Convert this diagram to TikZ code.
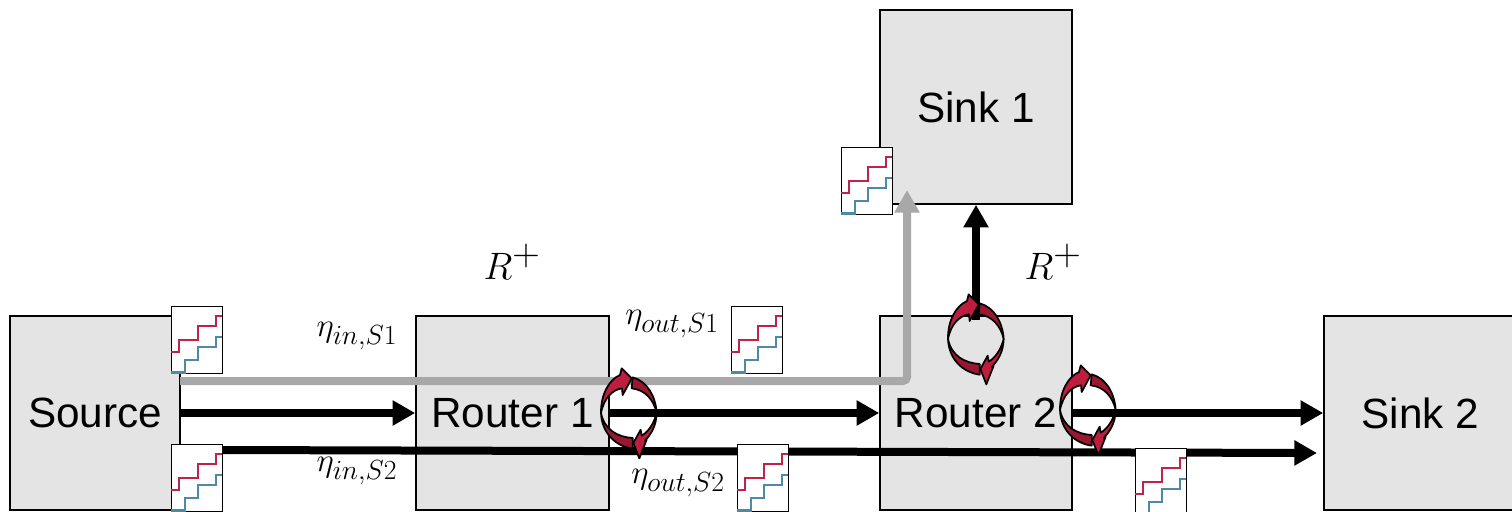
\documentclass[tikz,border=0pt]{standalone}
\usepackage{fontspec}
\newfontfamily\arialf{Liberation Sans}
\usetikzlibrary{arrows.meta}
\definecolor{boxgray}{HTML}{E4E4E4}
\definecolor{flowgray}{HTML}{A8A8A8}
\definecolor{stairred}{HTML}{C0234A}
\definecolor{stairblue}{HTML}{4C8AA6}
\definecolor{circbright}{HTML}{BE1E3E}
\definecolor{circdark}{HTML}{98182F}
\tikzset{
  px/.style={x=0.75pt,y=-0.75pt},
  block/.style={draw=black,line width=1.2pt,fill=boxgray,minimum height=145.5pt,inner sep=0pt,font=\arialf\fontsize{31.7}{36}\selectfont},
  iconbox/.style={draw=black,line width=1.2pt,fill=white,minimum width=38.25pt,minimum height=50.25pt,inner sep=0pt,anchor=north west},
  flow/.style={line width=6pt,-{Triangle[length=17pt,width=18pt]}},
  grayflow/.style={flow,draw=flowgray,rounded corners=3pt},
  label/.style={inner sep=0pt,text=black,font=\fontsize{30.5}{35}\selectfont},
  rlabel/.style={inner sep=0pt,text=black,scale=1.15,font=\fontsize{41}{46}\selectfont},
  circline/.style={draw=black,line width=1.3pt,line join=round}
}
\newcommand{\stairicon}[3]{%
  \node[iconbox] (#1) at (#2,#3) {};
  \begin{scope}[shift={(#2+0.5,#3+0.5)},line width=1.6pt,line join=miter]
    \draw[stairred] (0,46.3) -- (8,46.3) -- (8,34) -- (26.7,34) -- (26.7,20) -- (45,20) -- (45,10) -- (50.5,10);
    \draw[stairblue] (0,66.5) -- (14,66.5) -- (14,54) -- (26.7,54) -- (26.7,40.7) -- (45,40.7) -- (45,30.7) -- (50.5,30.7);
  \end{scope}}
\newcommand{\circarrows}[2]{%
  \begin{scope}[shift={(#1,#2)},x=0.25pt,y=-0.25pt]
    \path[circline,fill=circdark] (11,-107) .. controls (55,-95) and (80,-50) .. (83,0) .. controls (74,-40) and (48,-70) .. (8,-74) -- cycle;
    \path[circline,fill=circdark] (-84,0) .. controls (-82,60) and (-40,100) .. (11,107) -- (11,75) .. controls (-35,72) and (-74,50) .. (-84,0) -- cycle;
    \path[circline,fill=circbright] (-84,0) .. controls (-85,-55) and (-60,-100) .. (-27,-114) -- (-22,-134) -- (8,-104) -- (-19,-54) -- (-21,-74) .. controls (-50,-70) and (-75,-45) .. (-84,0) -- cycle;
    \path[circline,fill=circbright] (83,0) .. controls (82,40) and (65,65) .. (47,84) -- (53,80) -- (31,136) -- (13,90) -- (35,50) -- (38,68) .. controls (60,55) and (75,30) .. (83,0) -- cycle;
  \end{scope}}
\begin{document}
\begin{tikzpicture}[px]
\useasboundingbox (0,0) rectangle (1512,511);
\clip (0,0) rectangle (1512,511);
\node[block,minimum width=127.5pt] (source) at (95,413) {Source};
\node[block,minimum width=144.75pt] (router1) at (512.5,413) {Router 1};
\node[block,minimum width=144pt] (router2) at (976,413) {Router 2};
\node[block,minimum width=144.75pt] (sink2) at (1420.5,413) {Sink 2};
\node[block,minimum width=144pt] (sink1) at (976,107) {Sink 1};
\coordinate (g0) at (180,381);
\coordinate (g1) at (907,381);
\coordinate (g2) at (907,190);
\coordinate (b0) at (222,450);
\coordinate (b1) at (1317,453);
\coordinate (u0) at (976,320);
\draw[grayflow] (g0) -- (g1) -- (g2);
\draw[flow] (b0) -- (b1);
\draw[flow] (u0) -- (u0 |- sink1.south);
\circarrows{976}{339}
\circarrows{629}{413}
\circarrows{1088}{410}
\draw[flow] (source.east) -- (router1.west);
\draw[flow] (router1.east) -- (router2.west);
\draw[flow] (router2.east) -- (sink2.west);
\stairicon{iconA}{170.5}{305.5}
\stairicon{iconB}{170.5}{443.5}
\stairicon{iconC}{730.5}{305.5}
\stairicon{iconD}{736.5}{443.5}
\stairicon{iconE}{840.5}{146.5}
\stairicon{iconF}{1134.5}{447.5}
\node[label] (etaa) at (357,336) {$\eta_{in,S1}$};
\node[label] (etab) at (357,471) {$\eta_{in,S2}$};
\node[label] (etac) at (672,324) {$\eta_{out,S1}$};
\node[label] (etad) at (678,483) {$\eta_{out,S2}$};
\node[rlabel] (ra) at (512,262) {$R^+$};
\node[rlabel] (rb) at (1053,262) {$R^+$};
\end{tikzpicture}
\end{document}
